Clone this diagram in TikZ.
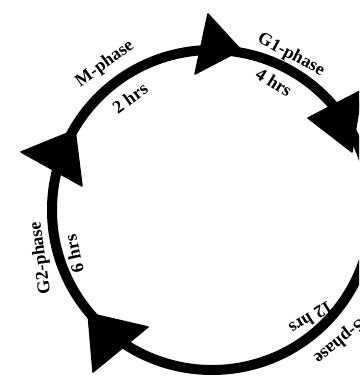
\documentclass[tikz,border=0pt]{standalone}
\usepackage{fontspec}
\setmainfont{Liberation Serif}
\begin{document}
\begin{tikzpicture}[x=1pt,y=-1pt,
  ring/.style={line width=10pt, draw=black},
  head/.style={fill=black, draw=black, line join=round, line width=1.5pt},
  lbl/.style={font=\bfseries\fontsize{18}{20}\selectfont, inner sep=0pt}]
\useasboundingbox (0,0) rectangle (359,379);
\clip (0,0) rectangle (359,379);
\coordinate (c) at (212,210);
\draw[ring] (c) circle[radius=160pt];
% arrowheads
\coordinate (t1) at (208,14);  \coordinate (t2) at (241,50);  \coordinate (t3) at (195,74);
\coordinate (r1) at (308,118); \coordinate (r2) at (362,90);  \coordinate (r3) at (352,152);
\coordinate (l1) at (21,152);  \coordinate (l2) at (75,130);  \coordinate (l3) at (82,186);
\coordinate (b1) at (88,313);  \coordinate (b2) at (148,327); \coordinate (b3) at (93,372);
\filldraw[head] (t1) -- (t2) -- (t3) -- cycle;
\filldraw[head] (r1) -- (r2) -- (r3) -- cycle;
\filldraw[head] (l1) -- (l2) -- (l3) -- cycle;
\filldraw[head] (b1) -- (b2) -- (b3) -- cycle;
% labels
\node[lbl, rotate=36]  (mp)  at (105,64)  {M-phase};
\node[lbl, rotate=36]  (mh)  at (130,98)  {2 hrs};
\node[lbl, rotate=-28] (g1p) at (291,55)  {G1-phase};
\node[lbl, rotate=-32] (g1h) at (274,82)  {4 hrs};
\node[lbl, rotate=98]  (g2p) at (41,258)  {G2-phase};
\node[lbl, rotate=102] (g2h) at (74,254)  {6 hrs};
\node[lbl, rotate=212] (sh)  at (311,318) {12 hrs};
\node[lbl, rotate=219] (sp)  at (339,341) {S-phase};
\end{tikzpicture}
\end{document}
